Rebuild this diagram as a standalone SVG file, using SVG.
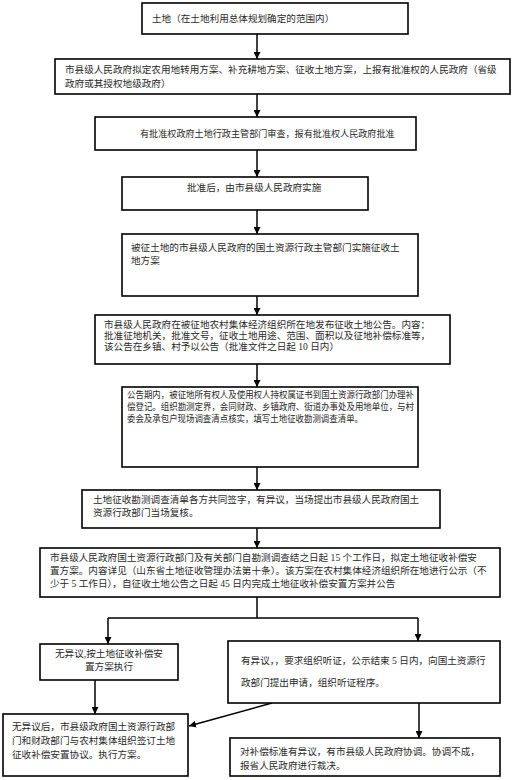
<svg xmlns="http://www.w3.org/2000/svg" width="514" height="780" viewBox="0 0 514 780">
<style>
.box{fill:#fff;stroke:#000;stroke-width:1.6}
.t{font-family:"Liberation Serif","Noto Sans CJK SC",serif;font-size:9.6px;fill:#2a2a2a}
.s{font-size:9.1px}
.xs{font-size:9.4px}
.c{fill:none;stroke:#000;stroke-width:1.5}
</style>
<defs>
<marker id="ah" viewBox="0 0 10 10" refX="10" refY="5" markerWidth="7" markerHeight="7" markerUnits="userSpaceOnUse" orient="auto">
<path d="M0,0 L10,5 L0,10 z" fill="#000"/>
</marker>
</defs>
<rect width="514" height="780" fill="#fff"/>
<g id="connectors">
<line class="c" x1="257" y1="34" x2="257" y2="59" marker-end="url(#ah)"/>
<line class="c" x1="257" y1="94" x2="257" y2="117" marker-end="url(#ah)"/>
<line class="c" x1="257" y1="150" x2="257" y2="177" marker-end="url(#ah)"/>
<line class="c" x1="257" y1="210" x2="257" y2="234" marker-end="url(#ah)"/>
<line class="c" x1="257" y1="296" x2="257" y2="315" marker-end="url(#ah)"/>
<line class="c" x1="257" y1="364" x2="257" y2="387" marker-end="url(#ah)"/>
<line class="c" x1="257" y1="467" x2="257" y2="490" marker-end="url(#ah)"/>
<line class="c" x1="257" y1="528" x2="257" y2="548" marker-end="url(#ah)"/>
<polyline class="c" points="257,597 257,618"/>
<polyline class="c" points="108,618 418,618"/>
<line class="c" x1="108" y1="618" x2="108" y2="644" marker-end="url(#ah)"/>
<line class="c" x1="418" y1="618" x2="418" y2="641" marker-end="url(#ah)"/>
<line class="c" x1="95" y1="680" x2="95" y2="714" marker-end="url(#ah)"/>
<line class="c" x1="272" y1="703" x2="189" y2="726" marker-end="url(#ah)"/>
<line class="c" x1="419" y1="703" x2="419" y2="738" marker-end="url(#ah)"/>
</g>
<g id="n1"><rect class="box" x="142" y="3" width="266" height="31"/><text class="t" x="152" y="22">土地（在土地利用总体规划确定的范围内）</text></g>
<g id="n2"><rect class="box" x="55" y="59" width="455" height="35"/><text class="t" x="65" y="73">市县级人民政府拟定农用地转用方案、补充耕地方案、征收土地方案，上报有批准权的人民政府（省级</text><text class="t" x="65" y="87">政府或其授权地级政府）</text></g>
<g id="n3"><rect class="box" x="95" y="117" width="321" height="33"/><text class="t s" x="140" y="137">有批准权政府土地行政主管部门审查，报有批准权人民政府批准</text></g>
<g id="n4"><rect class="box" x="122" y="177" width="246" height="33"/><text class="t" x="187" y="191">批准后，由市县级人民政府实施</text></g>
<g id="n5"><rect class="box" x="122" y="234" width="296" height="62"/><text class="t" x="131" y="251">被征土地的市县级人民政府的国土资源行政主管部门实施征收土</text><text class="t" x="131" y="264">地方案</text></g>
<g id="n6"><rect class="box" x="95" y="315" width="355" height="49"/><text class="t" x="104" y="328">市县级人民政府在被征地农村集体经济组织所在地发布征收土地公告。内容：</text><text class="t" x="104" y="339">批准征地机关，批准文号，征收土地用途、范围、面积以及征地补偿标准等，</text><text class="t" x="104" y="350">该公告在乡镇、村予以公告（批准文件之日起 10 日内）</text></g>
<g id="n7"><rect class="box" x="122" y="387" width="296" height="80"/><text class="t xs" x="127" y="398" textLength="287" lengthAdjust="spacingAndGlyphs">公告期内，被征地所有权人及使用权人持权属证书到国土资源行政部门办理补</text><text class="t xs" x="127" y="410" textLength="287" lengthAdjust="spacingAndGlyphs">偿登记。组织勘测定界，会同财政、乡镇政府、街道办事处及用地单位，与村</text><text class="t xs" x="127" y="422" textLength="236" lengthAdjust="spacingAndGlyphs">委会及承包户现场调查清点核实，填写土地征收勘测调查清单。</text></g>
<g id="n8"><rect class="box" x="82" y="490" width="358" height="38"/><text class="t" x="93" y="503">土地征收勘测调查清单各方共同签字，有异议，当场提出市县级人民政府国土</text><text class="t" x="93" y="516">资源行政部门当场复核。</text></g>
<g id="n9"><rect class="box" x="40" y="548" width="460" height="49"/><text class="t" x="50" y="561">市县级人民政府国土资源行政部门及有关部门自勘测调查结之日起 15 个工作日，拟定土地征收补偿安</text><text class="t" x="50" y="574">置方案。内容详见（山东省土地征收管理办法第十条）。该方案在农村集体经济组织所在地进行公示（不</text><text class="t" x="50" y="587">少于 5 工作日），自征收土地公告之日起 45 日内完成土地征收补偿安置方案并公告</text></g>
<g id="n10"><rect class="box" x="40" y="644" width="138" height="36"/><text class="t" x="109" y="657" text-anchor="middle">无异议,按土地征收补偿安</text><text class="t" x="109" y="670" text-anchor="middle">置方案执行</text></g>
<g id="n11"><rect class="box" x="228" y="641" width="272" height="62"/><text class="t" x="241" y="664">有异议，，要求组织听证，公示结束 5 日内，向国土资源行</text><text class="t" x="241" y="686">政部门提出申请，组织听证程序。</text></g>
<g id="n12"><rect class="box" x="3" y="714" width="185" height="62"/><text class="t" x="12" y="730">无异议后，市县级政府国土资源行政部</text><text class="t" x="12" y="744">门和财政部门与农村集体组织签订土地</text><text class="t" x="12" y="758">征收补偿安置协议。执行方案。</text></g>
<g id="n13"><rect class="box" x="230" y="738" width="270" height="38"/><text class="t" x="240" y="755">对补偿标准有异议，有市县级人民政府协调。协调不成，</text><text class="t" x="240" y="769">报省人民政府进行裁决。</text></g>
</svg>
